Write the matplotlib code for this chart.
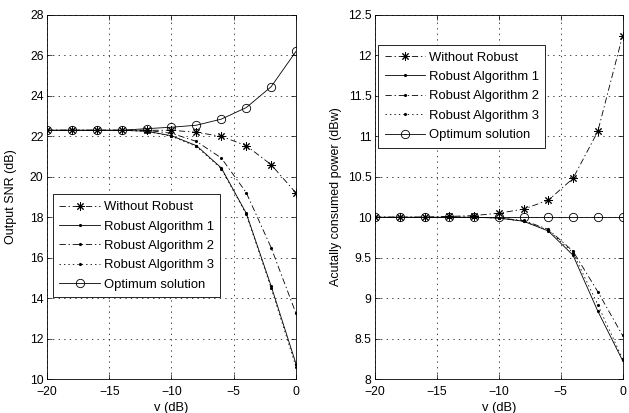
import numpy as np
from matplotlib import pyplot as plt

plt.rcParams['font.family'] = ['Liberation Sans', 'DejaVu Sans']
plt.rcParams['font.size'] = 8.8
plt.rcParams['lines.scale_dashes'] = False

v = [-20, -18, -16, -14, -12, -10, -8, -6, -4, -2, 0]

# output SNR (dB)
snr_without = [22.3, 22.3, 22.3, 22.3, 22.3, 22.3, 22.2, 22.0, 21.54, 20.6, 19.2]
snr_alg1 = [22.3, 22.3, 22.3, 22.3, 22.25, 22.03, 21.54, 20.44, 18.2, 14.6, 10.75]
snr_alg2 = [22.3, 22.3, 22.3, 22.3, 22.3, 22.15, 21.75, 20.93, 19.22, 16.5, 13.24]
snr_alg3 = [22.3, 22.3, 22.3, 22.3, 22.25, 22.0, 21.5, 20.4, 18.15, 14.5, 10.6]
snr_opt = [22.3, 22.3, 22.3, 22.3, 22.38, 22.45, 22.55, 22.85, 23.42, 24.45, 26.2]

# consumed power (dBw)
pw_without = [10.0, 10.0, 10.0, 10.01, 10.02, 10.05, 10.1, 10.21, 10.48, 11.06, 12.24]
pw_alg1 = [10.0, 10.0, 10.0, 10.0, 10.0, 9.99, 9.95, 9.83, 9.53, 8.84, 8.23]
pw_alg2 = [10.0, 10.0, 10.0, 10.0, 10.0, 9.99, 9.96, 9.85, 9.58, 9.08, 8.54]
pw_alg3 = [10.0, 10.0, 10.0, 10.0, 10.0, 9.99, 9.95, 9.84, 9.56, 8.92, 8.25]
pw_opt = [10.0] * 11

labels = ['Without Robust', 'Robust Algorithm 1', 'Robust Algorithm 2',
          'Robust Algorithm 3', 'Optimum solution']

dashdot = (0, (4.5, 2, 1, 2))
dotted = (0, (1, 2.2))
asterisk = (8, 2, 0)


def draw(ax, ys, yticks, ylim, ylabel, leg_anchor, ylabelpad):
    lw = 0.6
    ax.plot(v, ys[0], color='k', lw=lw, linestyle=dashdot, marker=asterisk,
            markersize=6, markeredgewidth=0.7, label=labels[0])
    ax.plot(v, ys[1], color='k', lw=lw, linestyle='-', marker='.',
            markersize=2.5, label=labels[1])
    ax.plot(v, ys[2], color='k', lw=lw, linestyle=dashdot, marker='.',
            markersize=2.5, label=labels[2])
    ax.plot(v, ys[3], color='k', lw=lw, linestyle=dotted, marker='.',
            markersize=2.5, label=labels[3])
    ax.plot(v, ys[4], color='k', lw=lw, linestyle='-', marker='o',
            markersize=6, markerfacecolor='none', markeredgewidth=0.6,
            label=labels[4])
    ax.set_xlim(-20, 0)
    ax.set_ylim(*ylim)
    ax.set_xticks([-20, -15, -10, -5, 0])
    ax.set_xticklabels(['\u221220', '\u221215', '\u221210', '\u22125', '0'])
    ax.set_yticks(yticks)
    ax.grid(True, color='k', linestyle=(0, (1, 3)), linewidth=0.5)
    ax.tick_params(direction='in', top=True, right=True, length=3.5,
                   width=0.5, labelsize=8.8)
    ax.tick_params(axis='x', pad=5)
    ax.tick_params(axis='y', pad=2.5)
    for s in ax.spines.values():
        s.set_linewidth(0.6)
    ax.set_xlabel('v (dB)', labelpad=3, fontsize=9.3)
    ax.set_ylabel(ylabel, labelpad=ylabelpad, fontsize=9.0)
    leg = ax.legend(loc='upper left', bbox_to_anchor=leg_anchor,
                    borderaxespad=0, fancybox=False, framealpha=1,
                    edgecolor='k', handlelength=3.1, handletextpad=0.3,
                    labelspacing=0.56, borderpad=0.5, fontsize=9.4)
    leg.get_frame().set_linewidth(0.6)


fig = plt.figure(figsize=(6.29, 4.13), dpi=100)
ax1 = fig.add_axes([0.0747, 0.0823, 0.3959, 0.8814])
ax2 = fig.add_axes([0.5962, 0.0823, 0.3935, 0.8814])

draw(ax1, [snr_without, snr_alg1, snr_alg2, snr_alg3, snr_opt],
     np.arange(10, 29, 2), (10, 28), 'Output SNR (dB)', (0.024, 0.507), 9)
draw(ax2, [pw_without, pw_alg1, pw_alg2, pw_alg3, pw_opt],
     [8, 8.5, 9, 9.5, 10, 10.5, 11, 11.5, 12, 12.5], (8, 12.5),
     'Acutally consumed power (dBw)', (0.012, 0.918), 4)
ax2.set_yticklabels(['8', '8.5', '9', '9.5', '10', '10.5', '11', '11.5', '12', '12.5'])

fig.savefig('out.png', dpi=100)
